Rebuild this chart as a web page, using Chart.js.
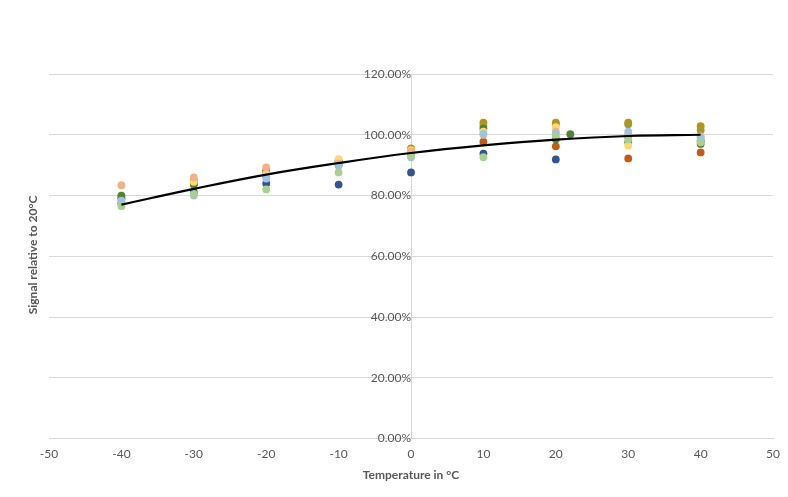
<!DOCTYPE html>
<html>
<head>
<meta charset="utf-8">
<script src="https://cdn.jsdelivr.net/npm/chart.js@4.4.1/dist/chart.umd.min.js"></script>
<style>
html,body{margin:0;padding:0;background:#fff;}
#wrap{width:788px;height:497px;}
</style>
</head>
<body>
<div id="wrap"><canvas id="c" width="788" height="497"></canvas></div>
<script>
// Temperatures (°C) at which the sensors were measured
const temps = [-40, -30, -20, -10, 0, 10, 20, 30, 40];
// Signal relative to 20 °C (fraction) for each sensor series
const sDarkBlue  = [0.775, 0.810, 0.840, 0.836, 0.876, 0.938, 0.919, 0.995, 0.980];
const sOrange    = [0.790, 0.850, 0.883, 0.900, 0.940, 0.977, 0.962, 0.922, 0.942];
const sPeach     = [0.834, 0.860, 0.893, 0.905, 0.945, 1.000, 1.010, 1.000, 0.995];
const sGold      = [0.790, 0.840, 0.877, 0.910, 0.955, 1.040, 1.040, 1.040, 1.028];
const sGreen     = [0.800, 0.836, 0.865, 0.916, 0.940, 1.020, 0.985, 0.975, 0.970];
const sLightBlue = [0.783, 0.800, 0.856, 0.900, 0.926, 1.003, 1.004, 1.010, 0.990];
const sLightGrn  = [0.765, 0.805, 0.820, 0.876, 0.930, 0.926, 0.995, 0.985, 0.975];
const sYellow    = [0.780, 0.845, 0.870, 0.920, 0.949, 1.010, 1.025, 0.965, 0.990];
const sOlive     = [0.795, 0.838, 0.872, 0.912, 0.950, 1.030, 1.035, 1.035, 1.015];
// extra point measured at 22 °C
const extraX = [22];
const extraY = [1.002];
// polynomial trendline
const trendX = [-40, -30, -20, -10, 0, 10, 20, 30, 40];
const trendY = [0.770, 0.822, 0.869, 0.907, 0.940, 0.965, 0.984, 0.996, 1.000];
// axis ticks
const xTicks = [-50, -40, -30, -20, -10, 0, 10, 20, 30, 40, 50];
const yTicks = [0, 0.2, 0.4, 0.6, 0.8, 1.0, 1.2];

const pts = (xs, ys) => xs.map((x, i) => ({x: x, y: ys[i]}));
const dot = (label, ys, color) => ({
  type: 'scatter', label, data: pts(temps, ys),
  backgroundColor: color, borderWidth: 0, pointRadius: 3.9, order: 2
});

const bgPlugin = {
  id: 'bg',
  beforeDraw(chart) {
    const ctx = chart.ctx;
    ctx.save(); ctx.fillStyle = '#fff';
    ctx.fillRect(0, 0, chart.width, chart.height); ctx.restore();
  }
};
const yTitlePlugin = {
  id: 'ytitle',
  afterDraw(chart) {
    const ctx = chart.ctx;
    ctx.save();
    ctx.translate(33, 255);
    ctx.rotate(-Math.PI / 2);
    ctx.font = 'bold 12px Lato, "Open Sans", sans-serif';
    ctx.fillStyle = '#595959';
    ctx.textAlign = 'center'; ctx.textBaseline = 'middle';
    ctx.fillText('Signal relative to 20°C', 0, 0);
    ctx.restore();
  }
};

new Chart(document.getElementById('c'), {
  type: 'scatter',
  data: {
    datasets: [
      {type: 'line', label: 'Trend', data: pts(trendX, trendY), borderColor: '#000',
       borderWidth: 2.2, pointRadius: 0, tension: 0.4, fill: false, order: 0},
      dot('S1', sLightGrn, '#A9D18E'),
      dot('S2', sLightBlue, '#9DC3E6'),
      dot('S3', sPeach, '#F4B183'),
      dot('S4', sYellow, '#FFD966'),
      dot('S5', sGreen, '#548235'),
      dot('S6', sOlive, '#A29A2A'),
      dot('S7', sGold, '#BF9000'),
      dot('S8', sOrange, '#C55A11'),
      dot('S9', sDarkBlue, '#2F5597'),
      {type: 'scatter', label: 'S10', data: pts(extraX, extraY), backgroundColor: '#548235',
       borderWidth: 0, pointRadius: 3.9, order: 2}
    ]
  },
  options: {
    responsive: false, animation: false,
    layout: {padding: {left: 49, right: 4, top: 74, bottom: 16}},
    plugins: {legend: {display: false}, tooltip: {enabled: false}},
    scales: {
      x: {
        type: 'linear', min: -50, max: 50,
        afterBuildTicks: s => { s.ticks = xTicks.map(v => ({value: v})); },
        grid: {display: false, drawTicks: false},
        border: {display: true, color: '#D9D9D9', width: 1},
        ticks: {color: '#595959', font: {family: 'Lato, "Open Sans", sans-serif', size: 12}, padding: 8,
                maxRotation: 0},
        title: {display: true, text: 'Temperature in °C', color: '#595959',
                font: {family: 'Lato, "Open Sans", sans-serif', size: 12, weight: 'bold', lineHeight: 1.0},
                padding: {top: 0, bottom: 0}}
      },
      y: {
        type: 'linear', min: 0, max: 1.2, position: {x: 0},
        afterBuildTicks: s => { s.ticks = yTicks.map(v => ({value: v})); },
        grid: {color: '#D9D9D9', drawTicks: false},
        border: {display: true, color: '#D9D9D9', width: 1},
        ticks: {color: '#595959', font: {family: 'Lato, "Open Sans", sans-serif', size: 12}, padding: 6,
                callback: v => (v * 100).toFixed(2) + '%'}
      }
    }
  },
  plugins: [bgPlugin, yTitlePlugin]
});
</script>
</body>
</html>
